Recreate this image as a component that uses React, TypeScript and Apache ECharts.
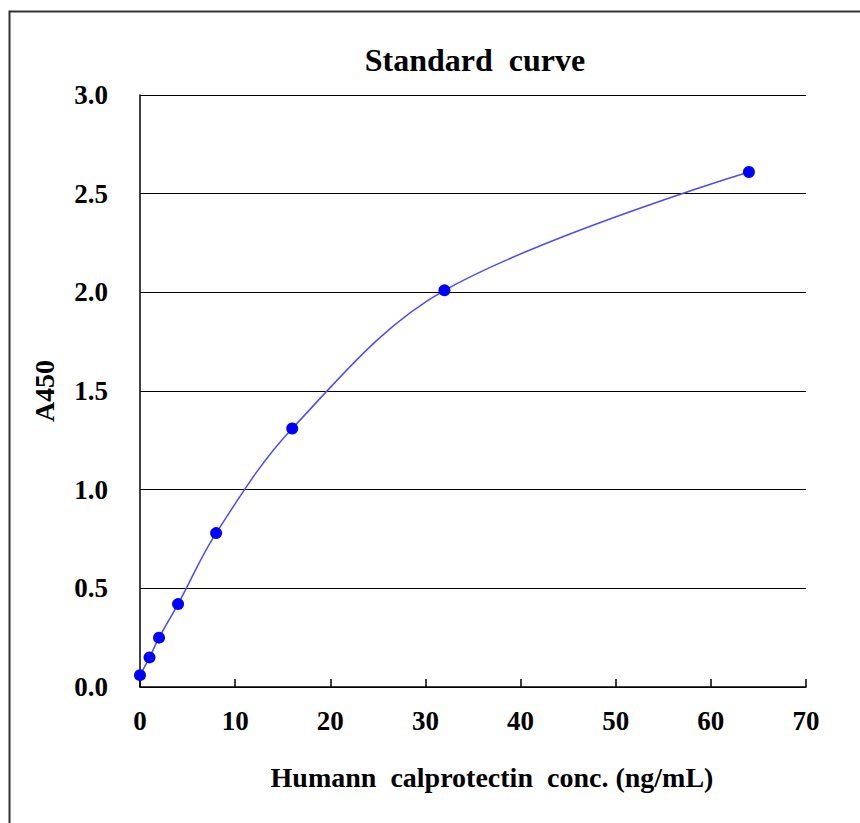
import React, { useEffect, useRef } from "react";
import * as echarts from "echarts";

const concentrations = [0, 1, 2, 4, 8, 16, 32, 64];
const absorbance = [0.06, 0.15, 0.25, 0.42, 0.78, 1.31, 2.01, 2.61];
const titleText = "Standard  curve";
const xAxisName = "Humann  calprotectin  conc. (ng/mL)";
const yAxisName = "A450";

const FONT = "'Liberation Serif', 'Times New Roman', serif";

export default function App() {
  const ref = useRef<HTMLDivElement>(null);
  useEffect(() => {
    document.body.style.margin = "0";
    const chart = echarts.init(ref.current!, null, { renderer: "svg" });
    const data = concentrations.map((c, i) => [c, absorbance[i]]);
    chart.setOption({
      animation: false,
      backgroundColor: "#ffffff",
      title: {
        text: titleText,
        left: 470,
        textAlign: "center",
        top: 39,
        textStyle: { fontFamily: FONT, fontWeight: "bold", fontSize: 32, color: "#000" },
      },
      graphic: [
        {
          type: "rect",
          shape: { x: 9.5, y: 11.5, width: 900, height: 900 },
          style: { fill: "none", stroke: "#333", lineWidth: 2 },
        },
      ],
      grid: { left: 140, top: 95, width: 666, height: 592 },
      xAxis: {
        type: "value",
        min: 0,
        max: 70,
        interval: 10,
        name: xAxisName,
        nameLocation: "middle",
        nameGap: 76,
        nameTextStyle: {
          fontFamily: FONT,
          fontWeight: "bold",
          fontSize: 28,
          color: "#000",
          padding: [0, 0, 0, 38],
        },
        axisLine: { show: true, onZero: false, lineStyle: { color: "#000", width: 1.5 } },
        axisTick: { show: true, inside: true, length: 8, lineStyle: { color: "#000", width: 1.5 } },
        axisLabel: { margin: 20, fontFamily: FONT, fontWeight: "bold", fontSize: 27, color: "#000" },
        splitLine: { show: false },
      },
      yAxis: {
        type: "value",
        min: 0,
        max: 3,
        interval: 0.5,
        name: yAxisName,
        nameLocation: "middle",
        nameGap: 82,
        nameRotate: 90,
        nameTextStyle: { fontFamily: FONT, fontWeight: "bold", fontSize: 28, color: "#000" },
        axisLine: { show: true, lineStyle: { color: "#000", width: 1.5 } },
        axisTick: { show: false },
        axisLabel: {
          margin: 32,
          fontFamily: FONT,
          fontWeight: "bold",
          fontSize: 27,
          color: "#000",
          formatter: (v: number) => v.toFixed(1),
        },
        splitLine: { show: true, lineStyle: { color: "#000", width: 1.2 } },
      },
      series: [
        {
          type: "line",
          data,
          smooth: 0.35,
          symbol: "circle",
          symbolSize: 12,
          itemStyle: { color: "#0000ff" },
          lineStyle: { color: "#4a4aff", width: 1.5 },
          z: 5,
        },
      ],
    });
    return () => chart.dispose();
  }, []);
  return <div ref={ref} style={{ width: 860, height: 823 }} />;
}
